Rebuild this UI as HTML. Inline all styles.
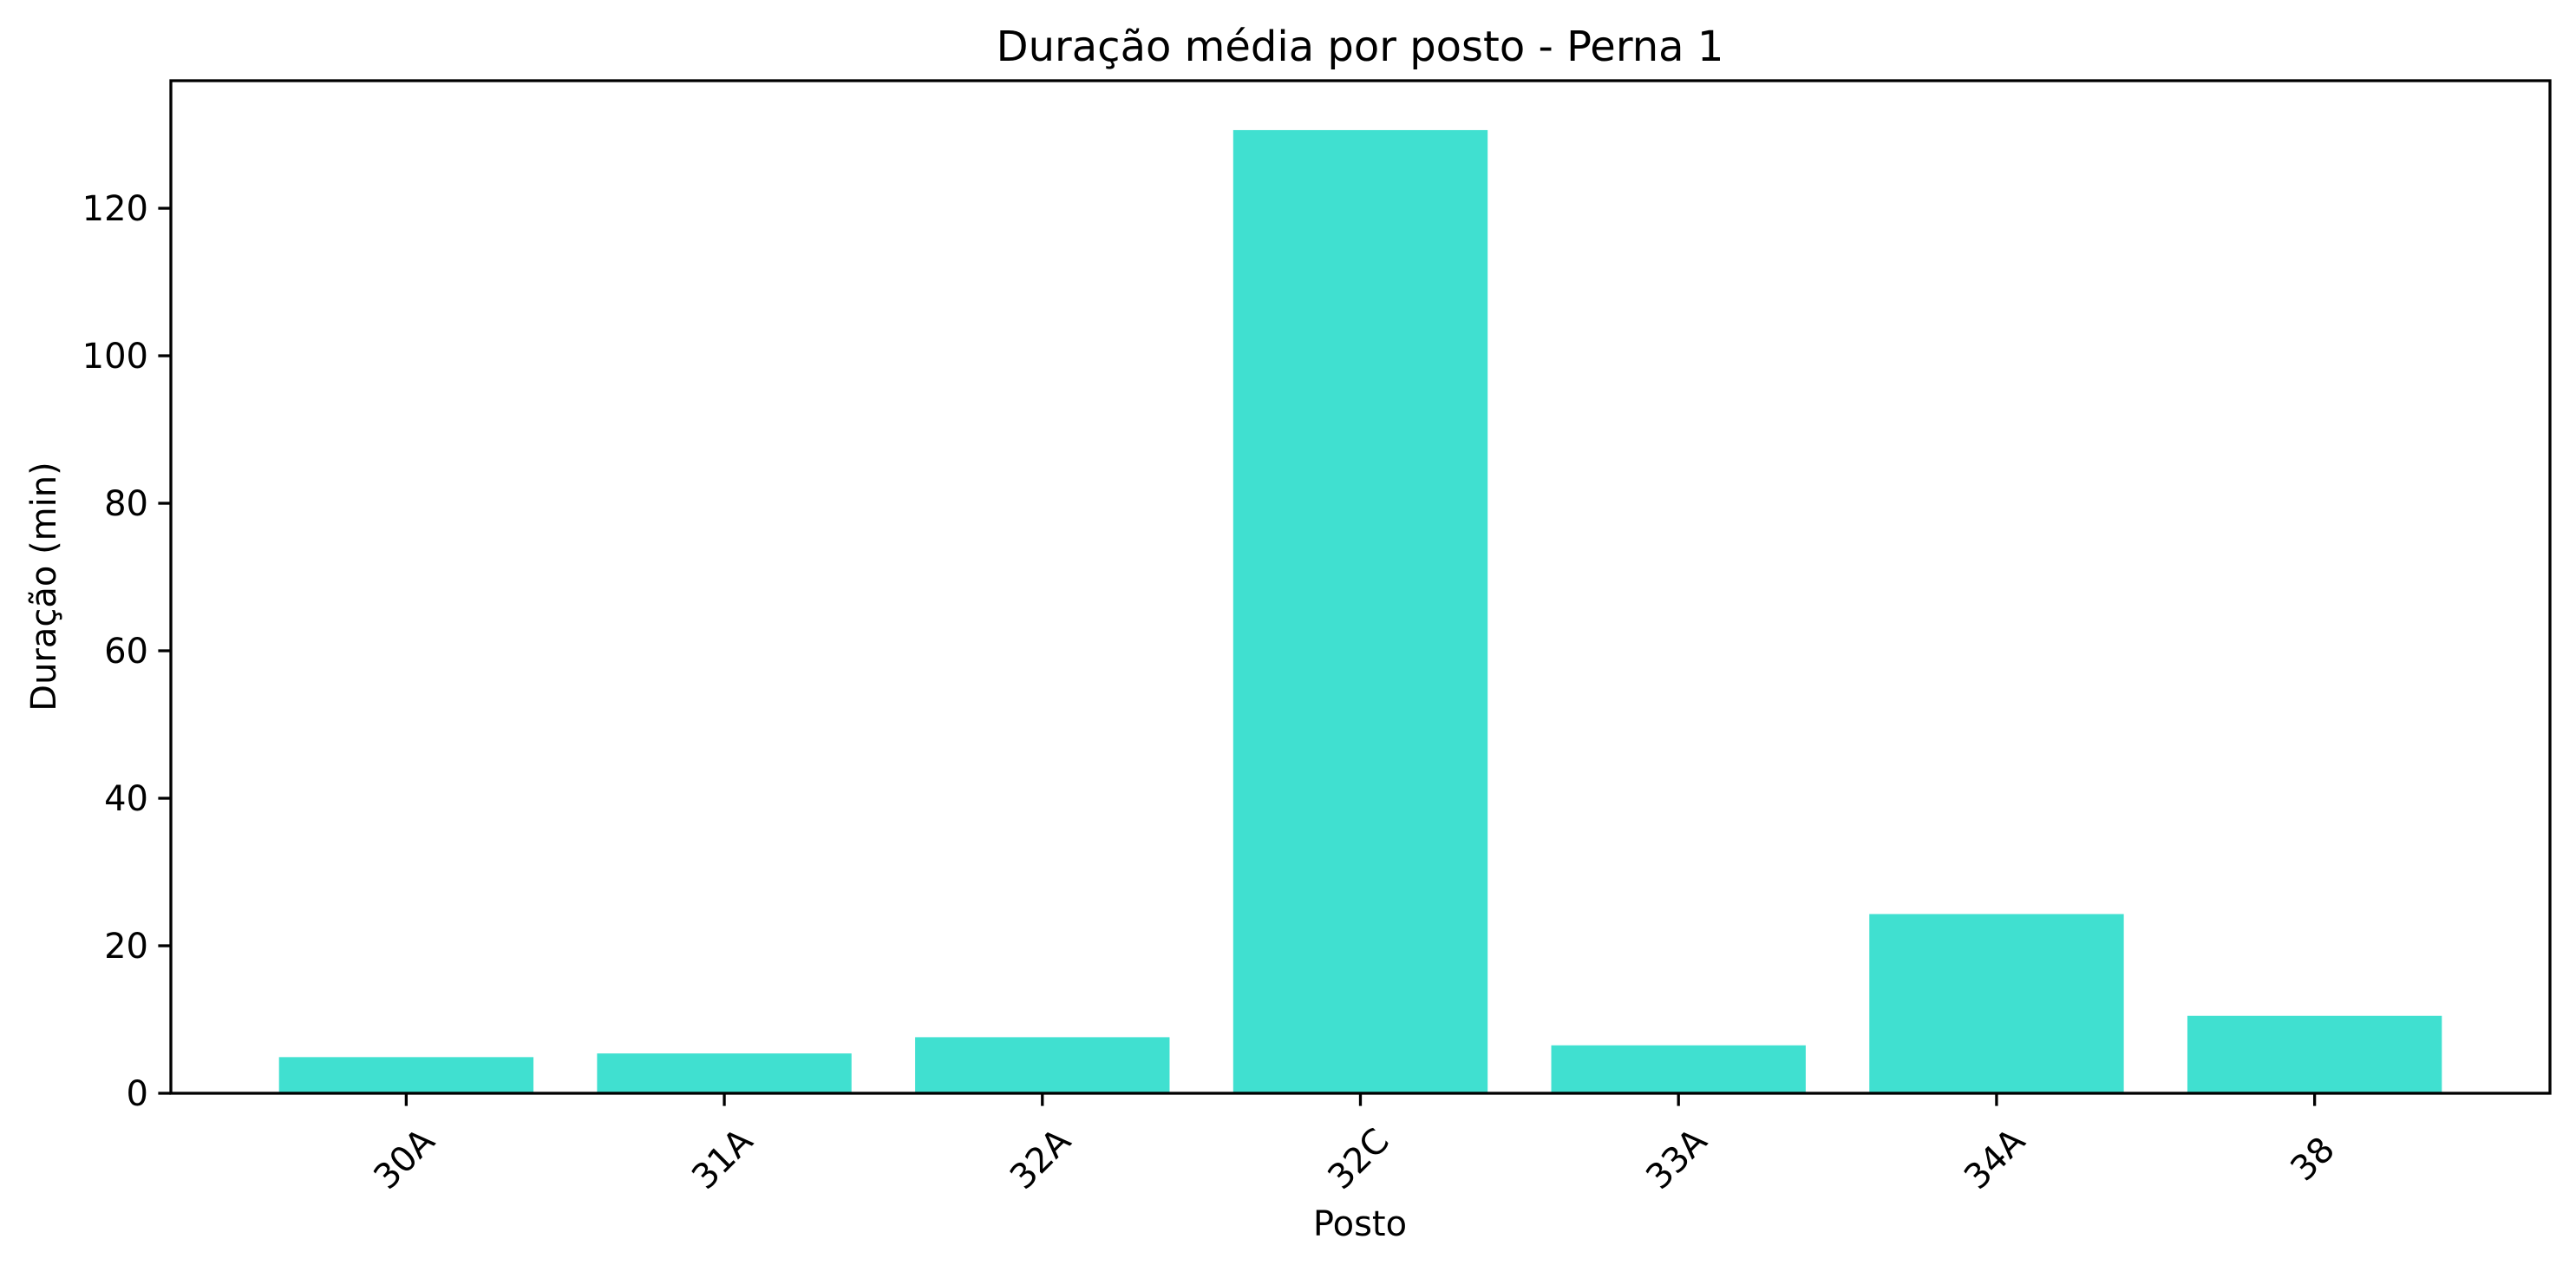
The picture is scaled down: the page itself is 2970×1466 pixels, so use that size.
<!DOCTYPE html>
<html><head><meta charset="utf-8"><style>
html,body{margin:0;padding:0;background:#fff;}
svg{display:block;font-family:"DejaVu Sans","Liberation Sans",sans-serif;}
</style></head><body>
<svg id="chart" width="2970" height="1466" viewBox="0 0 2970 1466" xmlns="http://www.w3.org/2000/svg">
<rect width="2970" height="1466" fill="#fff"/>
<text x="1568" y="70" font-size="48" text-anchor="middle" fill="#000">Duração média por posto - Perna 1</text>
<g id="bars"></g>
<g id="yticks"></g>
<g id="xticks"></g>
<rect x="197" y="93" width="2743" height="1167" fill="none" stroke="#000" stroke-width="3.3"/>
<text x="1568" y="1424" font-size="40" text-anchor="middle" fill="#000">Posto</text>
<text x="0" y="0" font-size="40" text-anchor="middle" fill="#000" transform="translate(64,676) rotate(-90)">Duração (min)</text>
</svg>
<script>
const categories = ["30A","31A","32A","32C","33A","34A","38"];
const values = [4.9, 5.4, 7.6, 130.6, 6.5, 24.3, 10.5];
const yTicks = [0, 20, 40, 60, 80, 100, 120];

const NS = "http://www.w3.org/2000/svg";
const plotLeft = 197, plotRight = 2940, plotTop = 93, plotBottom = 1260;
const xMin = -0.74, xMax = categories.length - 1 + 0.74;
const yMin = 0, yMax = 137.3;
function xScale(i){ return plotLeft + (i - xMin) / (xMax - xMin) * (plotRight - plotLeft); }
function yScale(v){ return plotBottom - (v - yMin) / (yMax - yMin) * (plotBottom - plotTop); }
const barW = 0.8;

const bars = document.getElementById('bars');
values.forEach((v, i) => {
  const r = document.createElementNS(NS, 'rect');
  const x0 = xScale(i - barW/2), x1 = xScale(i + barW/2);
  r.setAttribute('x', x0);
  r.setAttribute('width', x1 - x0);
  r.setAttribute('y', yScale(v));
  r.setAttribute('height', yScale(0) - yScale(v));
  r.setAttribute('fill', '#40e0d0');
  
  
  bars.appendChild(r);
});

const yt = document.getElementById('yticks');
yTicks.forEach(t => {
  const y = yScale(t);
  const l = document.createElementNS(NS, 'line');
  l.setAttribute('x1', plotLeft - 14.6); l.setAttribute('x2', plotLeft);
  l.setAttribute('y1', y); l.setAttribute('y2', y);
  l.setAttribute('stroke', '#000'); l.setAttribute('stroke-width', '3.3');
  
  
  yt.appendChild(l);
  const tx = document.createElementNS(NS, 'text');
  tx.setAttribute('x', plotLeft - 26); tx.setAttribute('y', y + 14);
  tx.setAttribute('font-size', '40'); tx.setAttribute('text-anchor', 'end');
  tx.textContent = t;
  
  
  yt.appendChild(tx);
});

const xt = document.getElementById('xticks');
categories.forEach((c, i) => {
  const x = xScale(i);
  const l = document.createElementNS(NS, 'line');
  l.setAttribute('x1', x); l.setAttribute('x2', x);
  l.setAttribute('y1', plotBottom); l.setAttribute('y2', plotBottom + 14.6);
  l.setAttribute('stroke', '#000'); l.setAttribute('stroke-width', '3.3');
  
  
  xt.appendChild(l);
  const tx = document.createElementNS(NS, 'text');
  tx.setAttribute('x', 0); tx.setAttribute('y', 0);
  tx.setAttribute('font-size', '40'); tx.setAttribute('text-anchor', 'middle');
  tx.setAttribute('dominant-baseline', 'central');
  tx.setAttribute('transform', 'translate(' + (x - 2) + ',1336) rotate(-45)');
  tx.textContent = c;
  
  
  xt.appendChild(tx);
});
</script>
</body></html>
